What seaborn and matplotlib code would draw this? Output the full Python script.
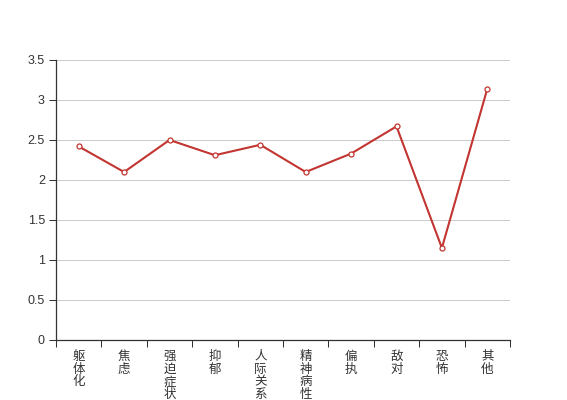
import matplotlib
matplotlib.use("Agg")
import matplotlib.pyplot as plt
import seaborn as sns
import pandas as pd
import numpy as np

categories = ["躯体化", "焦虑", "强迫症状", "抑郁", "人际关系敏感", "精神病性", "偏执", "敌对", "恐怖", "其他"]
values = [2.42, 2.10, 2.50, 2.31, 2.44, 2.10, 2.33, 2.67, 1.15, 3.14]
y_ticks = [0, 0.5, 1, 1.5, 2, 2.5, 3, 3.5]
y_tick_labels = ["0", "0.5", "1", "1.5", "2", "2.5", "3", "3.5"]

sns.set_theme(style="white")
plt.rcParams['font.family'] = ['Noto Sans CJK SC', 'DejaVu Sans']

df = pd.DataFrame({"idx": np.arange(len(categories)), "value": values})

fig = plt.figure(figsize=(5.67, 4.0), dpi=100)
ax = fig.add_axes([56/567, 60/400, 454/567, 280/400])

sns.lineplot(data=df, x="idx", y="value", ax=ax, color="#c23531", linewidth=1.5,
             marker="o", markersize=3.6, markerfacecolor="white",
             markeredgecolor="#c23531", markeredgewidth=0.9, zorder=3)

ax.set_xlim(-0.5, len(categories) - 0.5)
ax.set_ylim(0, 3.5)
ax.set_xlabel("")
ax.set_ylabel("")

ax.set_yticks(y_ticks)
ax.set_yticklabels(y_tick_labels, family=["Liberation Sans", "DejaVu Sans"], fontsize=9, color="#333333")
ax.yaxis.grid(True, color="#cccccc", linewidth=0.75)
ax.set_axisbelow(True)

ax.set_xticks(np.arange(len(categories)))
ax.set_xticklabels(["\n".join(c) for c in categories], fontsize=9, color="#333333",
                   linespacing=0.98, va="top")
ax.set_xticks(np.arange(-0.5, len(categories)), minor=True)
ax.tick_params(axis="x", which="major", length=0, pad=7, bottom=True)
ax.tick_params(axis="x", which="minor", length=5, width=0.75, color="#333333",
               direction="out", bottom=True)
ax.tick_params(axis="y", length=5, width=0.75, color="#333333", direction="out",
               pad=3, left=True)

for s in ["top", "right"]:
    ax.spines[s].set_visible(False)
for s in ["left", "bottom"]:
    ax.spines[s].set_color("#333333")
    ax.spines[s].set_linewidth(0.9)

fig.savefig("out.png", dpi=100)
